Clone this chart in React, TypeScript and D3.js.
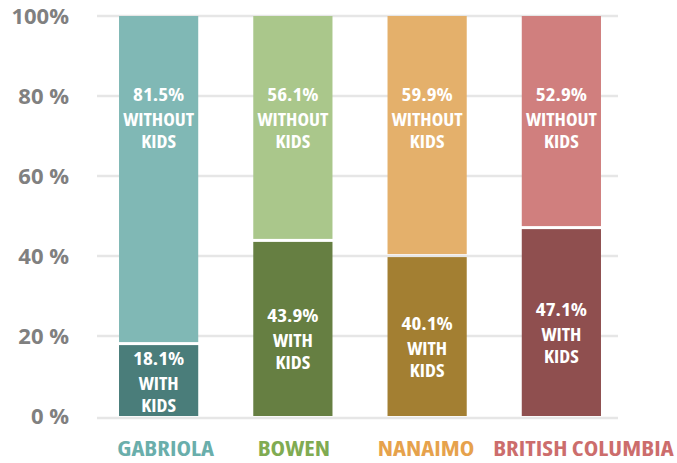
import { useEffect, useRef } from "react";
import * as d3 from "d3";

const regions = ["GABRIOLA", "BOWEN", "NANAIMO", "BRITISH COLUMBIA"];
const withKids = [18.1, 43.9, 40.1, 47.1];
const withoutKids = [81.5, 56.1, 59.9, 52.9];
const yTicks = [0, 20, 40, 60, 80, 100];
const yTickLabels = ["0 %", "20 %", "40 %", "60 %", "80 %", "100%"];

const lightColors = ["#80b8b5", "#aac78b", "#e4b06b", "#d07f7e"];
const darkColors = ["#4a7d7a", "#667f42", "#a37f32", "#8f4f4f"];
const labelColors = ["#6aaeab", "#80ab52", "#e6a24c", "#cc6d6c"];
// the category names are nudged sideways in the original
const catShift = [7, 1, -1, 22];

const font = "'Open Sans', 'DejaVu Sans', sans-serif";

export default function App() {
  const ref = useRef(null);
  const width = 677;
  const height = 463;

  const x = d3.scaleBand().domain(regions).range([91.5, 628.5]).paddingInner(0.41).paddingOuter(0.205);
  const y = d3.scaleLinear().domain([0, 100]).range([416, 16]);

  useEffect(() => {
    const svg = d3.select(ref.current);

    // condensed bold text, widened a little to match the original face
    const cond = (g, tx, ty, txt, size, fill, sx) =>
      g.append("text")
        .attr("transform", `translate(${tx},${ty}) scale(${sx},1)`)
        .attr("text-anchor", "middle")
        .attr("fill", fill)
        .style("font-family", font)
        .style("font-stretch", "condensed")
        .style("font-weight", 700)
        .style("font-size", size + "px")
        .text(txt);

    // grid
    svg.append("g")
      .selectAll("line")
      .data(yTicks)
      .join("line")
        .attr("x1", 97)
        .attr("x2", 618)
        .attr("y1", d => y(d) + (d === 0 ? 2 : 0))
        .attr("y2", d => y(d) + (d === 0 ? 2 : 0))
        .attr("stroke", "#e6e6e6")
        .attr("stroke-width", 2.5);

    // y labels
    svg.append("g")
      .selectAll("text")
      .data(yTicks)
      .join("text")
        .attr("x", 69)
        .attr("y", d => y(d) + 8)
        .attr("text-anchor", "end")
        .attr("fill", "#808080")
        .style("font-family", font)
        .style("font-weight", 700)
        .style("font-size", "22px")
        .text((d, i) => yTickLabels[i]);

    const rows = regions.map((r, i) => ({ r, i, w: withKids[i], wo: withoutKids[i] }));
    const bars = svg.append("g");

    // without kids (top segment)
    bars.selectAll("rect.top")
      .data(rows)
      .join("rect")
        .attr("class", "top")
        .attr("x", d => x(d.r))
        .attr("width", x.bandwidth())
        .attr("y", y(100))
        .attr("height", d => y(d.w) - y(100) - 1.5)
        .attr("fill", d => lightColors[d.i]);

    // with kids (bottom segment)
    bars.selectAll("rect.bottom")
      .data(rows)
      .join("rect")
        .attr("class", "bottom")
        .attr("x", d => x(d.r))
        .attr("width", x.bandwidth())
        .attr("y", d => y(d.w) + 1.5)
        .attr("height", d => y(0) - y(d.w) - 1.5)
        .attr("fill", d => darkColors[d.i]);

    const labels = svg.append("g");
    const drawLabel = (cx, top, pct, word) => {
      cond(labels, cx, top + 14, pct + "%", 18, "#ffffff", 1.17);
      cond(labels, cx, top + 39, word, 17, "#ffffff", 1.15);
      cond(labels, cx, top + 61, "KIDS", 17, "#ffffff", 1.15);
    };

    rows.forEach(d => {
      const cx = x(d.r) + x.bandwidth() / 2;
      drawLabel(cx, y(100) + 71, d.wo.toFixed(1), "WITHOUT");
      const mid = (y(d.w) + y(0)) / 2 + 10;
      const top = Math.min(mid - 30, y(0) - 65);
      drawLabel(cx, top, d.w.toFixed(1), "WITH");
    });

    // category labels
    const cats = svg.append("g");
    rows.forEach(d => {
      cond(cats, x(d.r) + x.bandwidth() / 2 + catShift[d.i], 456, d.r, 22, labelColors[d.i], 1.12);
    });

    return () => { svg.selectAll("*").remove(); };
  }, []);

  return (
    <svg width={width} height={height} style={{ position: "absolute", left: 0, top: 0 }}>
      <g ref={ref}></g>
    </svg>
  );
}
